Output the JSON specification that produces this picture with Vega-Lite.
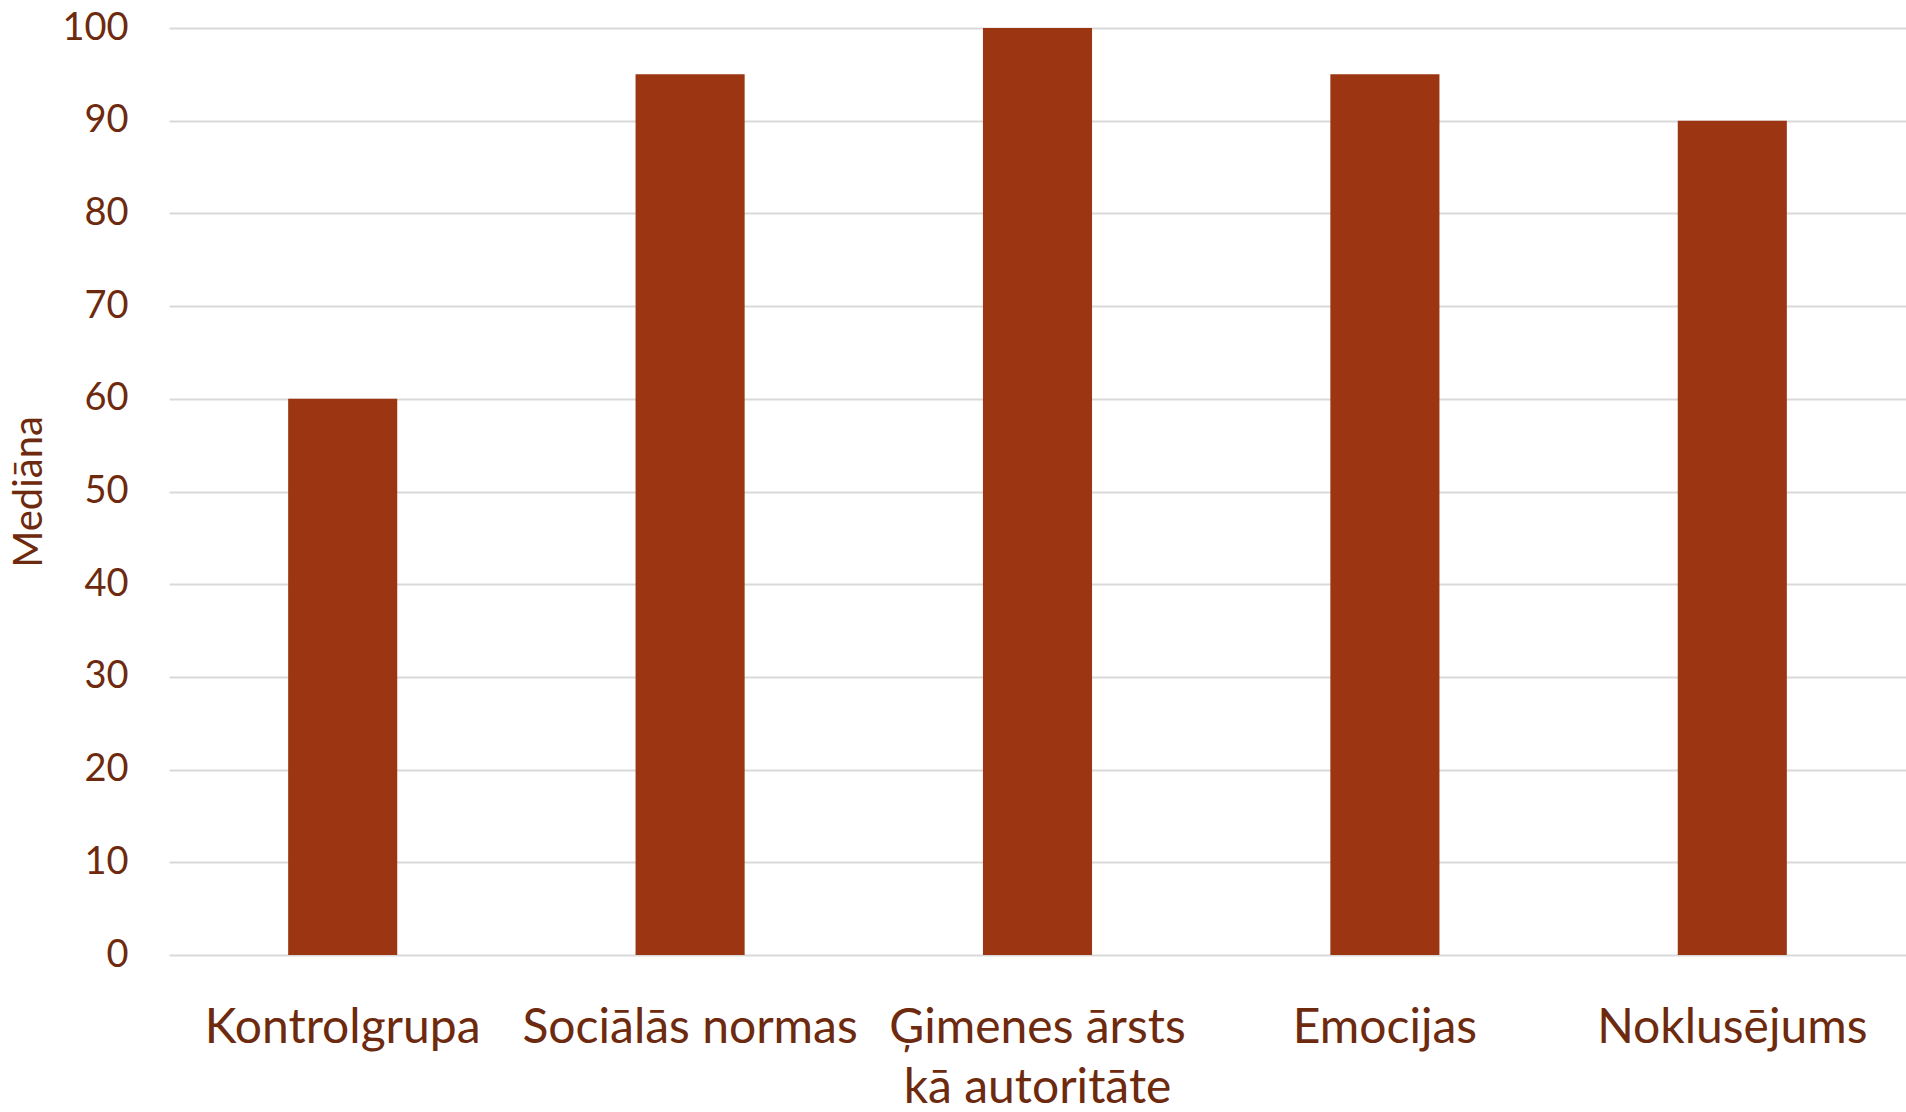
{
  "$schema": "https://vega.github.io/schema/vega-lite/v6.json",
  "autosize": {"type": "none"},
  "padding": {"left": 169, "top": 28, "right": 0, "bottom": 157},
  "width": 1737,
  "height": 927,
  "background": "white",
  "data": {
    "values": [
      {"grupa": "Kontrolgrupa", "mediana": 60},
      {"grupa": "Sociālās normas", "mediana": 95},
      {"grupa": "Ģimenes ārsts kā autoritāte", "mediana": 100},
      {"grupa": "Emocijas", "mediana": 95},
      {"grupa": "Noklusējums", "mediana": 90}
    ]
  },
  "config": {
    "view": {"stroke": null},
    "font": "Lato"
  },
  "mark": {"type": "bar", "color": "#9C3511"},
  "encoding": {
    "x": {
      "field": "grupa",
      "type": "nominal",
      "sort": null,
      "scale": {"paddingInner": 0.686, "paddingOuter": 0.343},
      "axis": {
        "title": null,
        "labelAngle": 0,
        "domain": false,
        "ticks": false,
        "labelFont": "Lato",
        "labelFontSize": 48,
        "labelColor": "#6E2A0E",
        "labelPadding": 49,
        "labelLineHeight": 60,
        "labelLimit": 600,
        "labelExpr": "datum.label == 'Ģimenes ārsts kā autoritāte' ? ['Ģimenes ārsts', 'kā autoritāte'] : datum.label"
      }
    },
    "y": {
      "field": "mediana",
      "type": "quantitative",
      "scale": {"domain": [0, 100], "nice": false},
      "axis": {
        "title": "Mediāna",
        "values": [0, 10, 20, 30, 40, 50, 60, 70, 80, 90, 100],
        "domain": false,
        "ticks": false,
        "grid": true,
        "gridColor": "#D9D9D9",
        "gridWidth": 2,
        "labelFont": "Lato",
        "labelFontSize": 38,
        "labelColor": "#6E2A0E",
        "labelPadding": 41,
        "titleFont": "Lato",
        "titleFontSize": 40,
        "titleFontWeight": "normal",
        "titleColor": "#6E2A0E",
        "titlePadding": 12
      }
    }
  }
}
